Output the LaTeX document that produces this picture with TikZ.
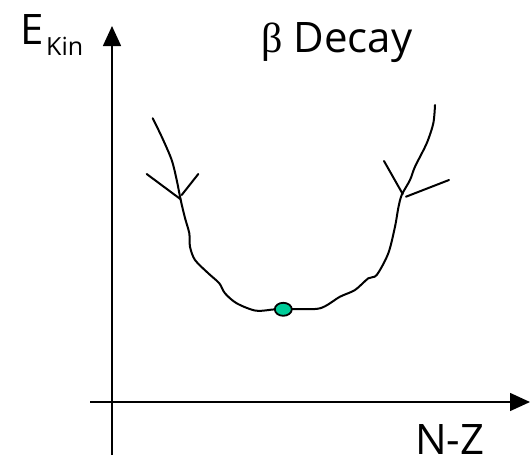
\documentclass[tikz,border=0pt]{standalone}
\usepackage{fontspec}
\setmainfont{Open Sans}
\newfontfamily\grk{Liberation Serif}
\usetikzlibrary{arrows.meta,shapes.geometric}
\definecolor{dotgreen}{RGB}{0,204,153}
\begin{document}
\begin{tikzpicture}[x=1pt,y=-1pt,
  axis/.style={line width=1.5pt,-{Triangle[length=20pt,width=18pt]}},
  curve/.style={line width=2pt,line join=round,line cap=round},
  lbl/.style={inner sep=0pt,anchor=base west,font=\fontsize{42}{46}\selectfont}]
\useasboundingbox (0,0) rectangle (531,464);
% axes
\coordinate (yb) at (112,455);
\coordinate (yt) at (112,26);
\coordinate (xl) at (90,402);
\coordinate (xr) at (530,402);
\draw[axis] (yb) -- (yt);
\draw[axis] (xl) -- (xr);
% labels
\node[lbl] (E) at (20,44) {E};
\node[inner sep=0pt,anchor=base west,font=\fontsize{25}{28}\selectfont] (kin) at (46,55) {Kin};
\node[lbl] (beta) at (261,52) {{\grk β} Decay};
\node[lbl] (nz) at (415,454) {N-Z};
% curve
\draw[curve] plot[smooth,tension=0.5] coordinates {
 (152.7,118.3) (161.7,136.7) (171.7,160) (176.7,180) (180.7,200) (185,218)
 (189.3,233.3) (190,246.7) (195,260) (208.3,273.3) (219.3,283.3) (225,293.3)
 (236.7,303.3) (256,310.7) (275,309.3) (291.7,309) (320,308.3) (340,296.7)
 (355,290) (368.3,278.3) (376.7,275) (388.3,253.3) (395,226.7) (398.3,208)
 (401.7,195) (410,180) (415,166.7) (426.7,143.3) (433.3,123.3) (435,105)};
% arrow marks on curve
\coordinate (la) at (180.7,199.3);
\coordinate (lb) at (181.7,195);
\coordinate (ra) at (402.7,194);
\coordinate (rb) at (406,196.7);
\coordinate (l1) at (146.7,174);
\coordinate (l2) at (198.3,174);
\coordinate (r1) at (384,161);
\coordinate (r2) at (449,180);
\draw[curve] (l1) -- (la);
\draw[curve] (l2) -- (lb);
\draw[curve] (r1) -- (ra);
\draw[curve] (r2) -- (rb);
% minimum dot
\node[draw,line width=1.8pt,fill=dotgreen,ellipse,minimum width=17pt,minimum height=13pt,inner sep=0pt] (dot) at (283.3,309.3) {};
\end{tikzpicture}
\end{document}
